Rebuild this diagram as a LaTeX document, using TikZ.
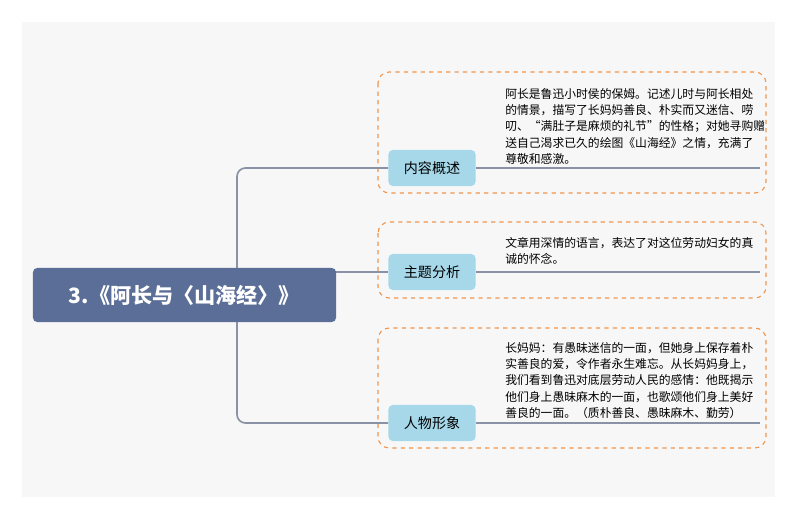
\documentclass[tikz,border=0pt]{standalone}
\usepackage{fontspec}
\setmainfont{Noto Sans CJK SC}
\usetikzlibrary{positioning}
\definecolor{rootblue}{HTML}{5B6E97}
\definecolor{topicblue}{HTML}{A6D8EA}
\definecolor{dashorange}{HTML}{F0964E}
\definecolor{linegray}{HTML}{8A93A6}
\tikzstyle{root}   = [rectangle, rounded corners=3pt, fill=rootblue, text=white, minimum width=7.575cm, minimum height=1.35cm, font=\fontsize{15}{18}\selectfont\bfseries]
\tikzstyle{topic}  = [rectangle, rounded corners=3pt, fill=topicblue, minimum width=2.175cm, minimum height=0.9cm, font=\fontsize{10}{12}\selectfont]
\tikzstyle{frame}  = [draw=dashorange, dashed, thick, rounded corners=8pt]
\tikzstyle{note}   = [anchor=north west, align=left, inner sep=0pt, font=\fontsize{8.4}{11.6}\selectfont]
\tikzstyle{wire}   = [linegray, line width=1.2pt]
\begin{document}
\begin{tikzpicture}[x=0.025cm, y=-0.025cm]
      %Background
      \fill[white] (0,0) rectangle (800,523);
      \fill[black!3] (22,22) rectangle (775,497);

      %Frames
      \draw[frame] (378,72) rectangle (766,193);
      \draw[frame] (378,222) rectangle (766,298);
      \draw[frame] (378,328) rectangle (766,448);

      %Underlines
      \coordinate (E1) at (760,168);
      \coordinate (E2) at (760,272);
      \coordinate (E3) at (760,423);

      %Topics
      \node (T1) [topic] at (432,168) {内容概述};
      \node (T2) [topic] at (432,272) {主题分析};
      \node (T3) [topic] at (432,423) {人物形象};
      \draw[wire] (T1.east) -- (E1);
      \draw[wire] (T2.east) -- (E2);
      \draw[wire] (T3.east) -- (E3);

      %Branches
      \coordinate (J) at (237,295);
      \draw[wire, rounded corners=6pt] (J) |- (T1.west);
      \draw[wire, rounded corners=6pt] (J) |- (T3.west);
      \draw[wire] (300,272) -- (T2.west);

      %Root
      \node (R) [root] at (184.5,295) {3.《阿长与〈山海经〉》};

      %Notes
      \node [note] at (505,88) {阿长是鲁迅小时侯的保姆。记述儿时与阿长相处\\的情景，描写了长妈妈善良、朴实而又迷信、唠\\叨、“满肚子是麻烦的礼节”的性格；对她寻购赠\\送自己渴求已久的绘图《山海经》之情，充满了\\尊敬和感激。};
      \node [note] at (505,237) {文章用深情的语言，表达了对这位劳动妇女的真\\诚的怀念。};
      \node [note] at (505,342) {长妈妈：有愚昧迷信的一面，但她身上保存着朴\\实善良的爱，令作者永生难忘。从长妈妈身上，\\我们看到鲁迅对底层劳动人民的感情：他既揭示\\他们身上愚昧麻木的一面，也歌颂他们身上美好\\善良的一面。（质朴善良、愚昧麻木、勤劳）};
\end{tikzpicture}
\end{document}
